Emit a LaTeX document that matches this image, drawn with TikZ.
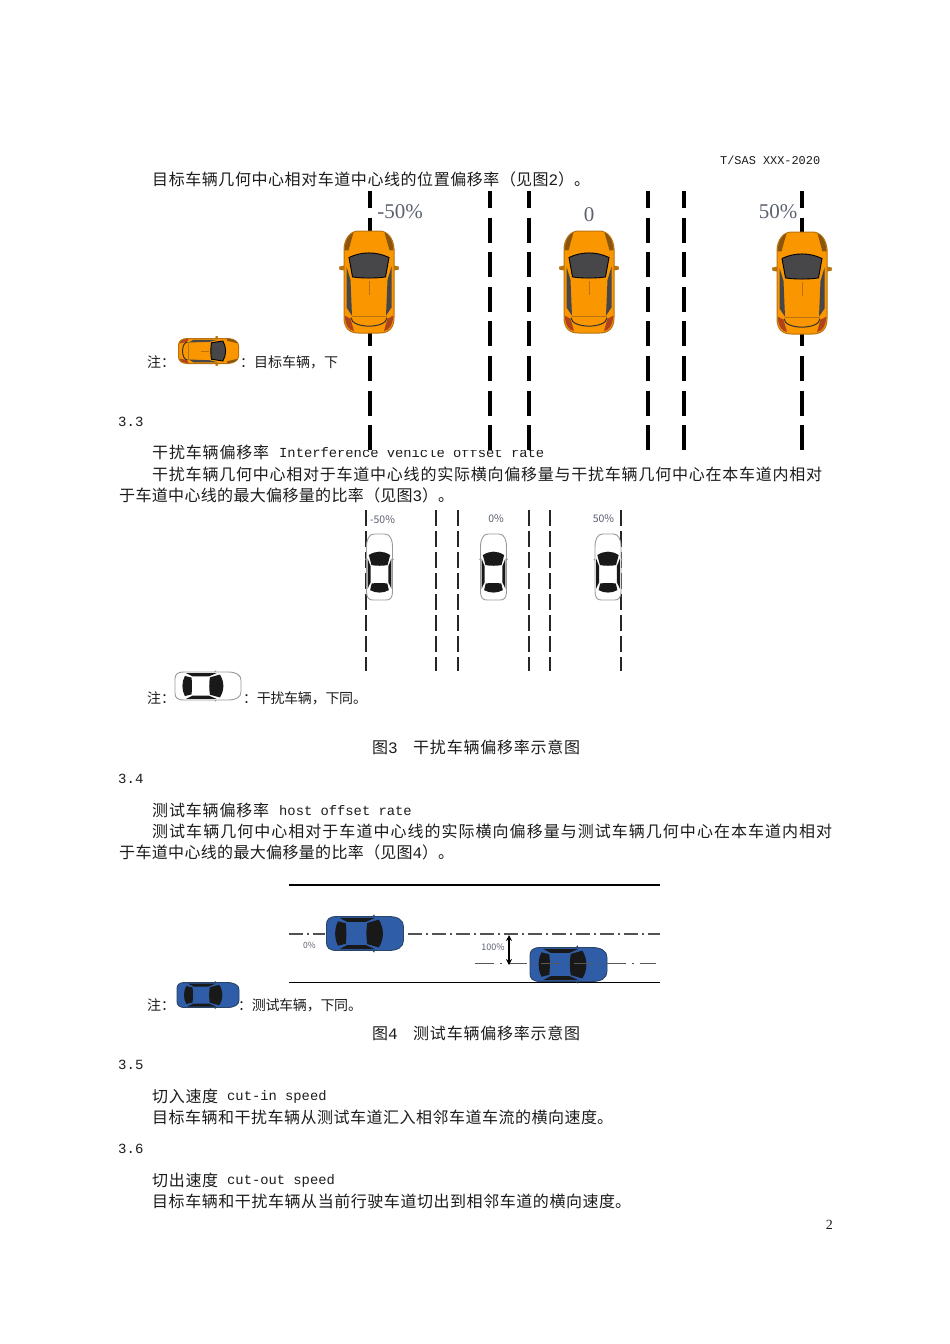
\documentclass[tikz,border=0pt]{standalone}
\usepackage{fontspec}
\usetikzlibrary{arrows.meta}
\setmainfont{Noto Sans CJK SC}
\setmonofont{Liberation Mono}
\newfontfamily\lserif{Liberation Serif}
\XeTeXlinebreaklocale "zh"
\XeTeXlinebreakskip=0pt plus 4pt minus 0.4pt
\definecolor{inktext}{HTML}{1C1C1C}
\definecolor{labelgrey}{HTML}{5C6270}
\definecolor{carorange}{HTML}{FA9600}
\definecolor{edgeorange}{HTML}{B87310}
\definecolor{glassdark}{HTML}{47474A}
\definecolor{tailred}{HTML}{B0431A}
\definecolor{carblue}{HTML}{2F5DA8}
\definecolor{edgeblue}{HTML}{2A4468}
\newcounter{tln}
% x, y, width, size, text : a line stretched to the width
\newcommand\fitline[5]{\stepcounter{tln}\node[anchor=west,inner sep=0pt,text=inktext] (line\thetln) at (#1,#2+0.8) {\parbox{#3pt}{\fontsize{#4}{#4}\selectfont\parindent=0pt\parfillskip=0pt\tolerance=9999\hbadness=10000 #5}};}
% x, y, size, text : a plain line
\newcommand\plainline[4]{\stepcounter{tln}\node[anchor=west,inner sep=0pt,text=inktext] (line\thetln) at (#1,#2+0.5) {\fontsize{#3}{#3}\selectfont #4};}
\newcommand\mo[1]{{\ttfamily #1}}
% hatchback: x y halfwidth halflength rotation
\newcommand\hatchcar[5]{%
\begin{scope}[shift={(#1,#2)},rotate=#5,xscale=#3,yscale=#4]
\fill[edgeorange] (-0.93,-0.33) -- (-1.2,-0.3) -- (-1.18,-0.24) -- (-0.93,-0.22) -- cycle;
\fill[edgeorange] (0.93,-0.33) -- (1.2,-0.3) -- (1.18,-0.24) -- (0.93,-0.22) -- cycle;
\draw[line width=1pt,draw=edgeorange,fill=carorange] (-0.42,1) .. controls (-0.75,1) and (-1,0.92) .. (-1,0.7) -- (-1,-0.66) .. controls (-0.97,-0.85) and (-0.75,-0.99) .. (-0.45,-1) -- (0.45,-1) .. controls (0.75,-0.99) and (0.97,-0.85) .. (1,-0.66) -- (1,0.7) .. controls (1,0.92) and (0.75,1) .. (0.42,1) -- cycle;
\fill[edgeorange!75!black] (-0.98,-0.62) .. controls (-0.95,-0.82) and (-0.8,-0.94) .. (-0.62,-0.97) -- (-0.82,-0.62) -- cycle;
\fill[edgeorange!75!black] (0.98,-0.62) .. controls (0.95,-0.82) and (0.8,-0.94) .. (0.62,-0.97) -- (0.82,-0.62) -- cycle;
\fill[tailred] (-0.97,0.66) .. controls (-0.95,0.85) and (-0.8,0.95) .. (-0.6,0.96) -- (-0.74,0.72) -- cycle;
\fill[tailred] (0.97,0.66) .. controls (0.95,0.85) and (0.8,0.95) .. (0.6,0.96) -- (0.74,0.72) -- cycle;
\fill[glassdark,draw=black,line width=0.9pt] (-0.8,-0.48) .. controls (-0.3,-0.6) and (0.3,-0.6) .. (0.8,-0.48) -- (0.66,-0.1) .. controls (0.3,-0.07) and (-0.3,-0.07) .. (-0.66,-0.1) -- cycle;
\fill[glassdark] (-0.9,-0.3) -- (-0.74,-0.04) -- (-0.68,0.66) -- (-0.9,0.5) -- cycle;
\fill[glassdark] (0.9,-0.3) -- (0.74,-0.04) -- (0.68,0.66) -- (0.9,0.5) -- cycle;
\draw[edgeorange,line width=0.6pt] (0,-0.02) -- (0,0.25);
\draw[black!80,line width=1pt] (-0.72,0.7) .. controls (-0.7,0.92) and (0.7,0.92) .. (0.72,0.7);
\draw[edgeorange,line width=0.7pt] (-0.7,0.68) -- (0.7,0.68);
\end{scope}}
% sedan: x y halfwidth halflength rotation bodycolour edgecolour
\newcommand\sedancar[7]{%
\begin{scope}[shift={(#1,#2)},rotate=#5,xscale=#3,yscale=#4]
\fill[#7] (-0.95,-0.26) -- (-1.12,-0.24) -- (-0.95,-0.16) -- cycle;
\fill[#7] (0.95,-0.26) -- (1.12,-0.24) -- (0.95,-0.16) -- cycle;
\draw[line width=0.9pt,draw=#7,fill=#6] (-0.5,1) .. controls (-0.8,1) and (-1,0.95) .. (-1,0.72) -- (-1,-0.6) .. controls (-1,-0.85) and (-0.8,-1) .. (-0.4,-1) -- (0.4,-1) .. controls (0.8,-1) and (1,-0.85) .. (1,-0.6) -- (1,0.72) .. controls (1,0.95) and (0.8,1) .. (0.5,1) -- cycle;
\fill[black!90] (-0.82,-0.36) .. controls (-0.3,-0.5) and (0.3,-0.5) .. (0.82,-0.36) -- (0.62,-0.06) .. controls (0.3,-0.03) and (-0.3,-0.03) .. (-0.62,-0.06) -- cycle;
\fill[black!90] (-0.6,0.5) .. controls (-0.3,0.48) and (0.3,0.48) .. (0.6,0.5) -- (0.72,0.7) .. controls (0.3,0.8) and (-0.3,0.8) .. (-0.72,0.7) -- cycle;
\fill[black!90] (-0.92,-0.26) -- (-0.68,-0.02) -- (-0.68,0.46) -- (-0.92,0.66) -- cycle;
\fill[black!90] (0.92,-0.26) -- (0.68,-0.02) -- (0.68,0.46) -- (0.92,0.66) -- cycle;
\end{scope}}
\tikzset{
  lanemain/.style={black,line width=3.4pt,dash pattern=on 25pt off 9.6pt,dash phase=8pt},
  lanesmall/.style={black!85,line width=2pt,dash pattern=on 15.5pt off 5.5pt},
  centreline/.style={black!68,line width=1.6pt,dash pattern=on 14pt off 4pt on 2pt off 4pt},
  centrelow/.style={black!65,line width=1.4pt,dash pattern=on 19pt off 6pt on 2pt off 6pt},
  roadedge/.style={black,line width=1.5pt},
  pctlabel/.style={inner sep=0pt,text=labelgrey}
}
\begin{document}
\begin{tikzpicture}[x=1pt,y=-1pt]
\useasboundingbox (0,0) rectangle (950,1344);
\fill[white] (0,0) rectangle (950,1344);

% ---- text hidden in part by the figure's white ground
\fitline{152}{452}{117}{16}{干扰车辆偏移率}
\plainline{279}{452.5}{13.8}{\mo{Interference vehicle offset rate}}
\fill[white] (338.5,188) rectangle (836,450);

% ---- page text
\plainline{720}{160}{11.9}{\mo{T/SAS XXX-2020}}
\fitline{152}{179}{438}{16}{目标车辆几何中心相对车道中心线的位置偏移率（见图\mo{2}）。}
\plainline{147}{362}{14}{注：}
\fitline{240}{362}{98}{14}{：目标车辆，下}
\plainline{118}{421}{14}{\mo{3.3}}
\fitline{152}{474}{670}{16}{干扰车辆几何中心相对于车道中心线的实际横向偏移量与干扰车辆几何中心在本车道内相对}
\fitline{119}{495}{335}{16}{于车道中心线的最大偏移量的比率（见图\mo{3}）。}
\plainline{147}{698}{14}{注：}
\fitline{243}{698}{124}{14}{：干扰车辆，下同。}
\plainline{372}{747}{16}{图\mo{3}}
\fitline{413}{747}{167}{16}{干扰车辆偏移率示意图}
\plainline{118}{778}{14}{\mo{3.4}}
\fitline{152}{810}{117}{16}{测试车辆偏移率}
\plainline{279}{810.5}{13.8}{\mo{host offset rate}}
\fitline{152}{831}{680}{16}{测试车辆几何中心相对于车道中心线的实际横向偏移量与测试车辆几何中心在本车道内相对}
\fitline{119}{852}{335}{16}{于车道中心线的最大偏移量的比率（见图\mo{4}）。}
\plainline{147}{1005}{14}{注：}
\fitline{238}{1005}{124}{14}{：测试车辆，下同。}
\plainline{372}{1033}{16}{图\mo{4}}
\fitline{413}{1033}{167}{16}{测试车辆偏移率示意图}
\plainline{118}{1064}{14}{\mo{3.5}}
\fitline{152}{1096}{66}{16}{切入速度}
\plainline{227}{1096.5}{13.8}{\mo{cut-in speed}}
\fitline{152}{1117}{461}{16}{目标车辆和干扰车辆从测试车道汇入相邻车道车流的横向速度。}
\plainline{118}{1148}{14}{\mo{3.6}}
\fitline{152}{1180}{66}{16}{切出速度}
\plainline{227}{1180.5}{13.8}{\mo{cut-out speed}}
\fitline{152}{1201}{479}{16}{目标车辆和干扰车辆从当前行驶车道切出到相邻车道的横向速度。}
\node[anchor=east,inner sep=0pt,text=inktext,font=\lserif\fontsize{14}{14}\selectfont] (pageno) at (833,1225) {2};

% ---- figure 2
\foreach \lx in {370,490,529,648,684,802} \draw[lanemain] (\lx,191) -- (\lx,456);
\hatchcar{369}{282}{25}{51}{0}
\hatchcar{589}{282}{25}{51}{0}
\hatchcar{802}{283}{25}{51}{0}
\node[pctlabel,font=\lserif\fontsize{21}{21}\selectfont] (pa) at (400,212) {-50\%};
\node[pctlabel,font=\lserif\fontsize{21}{21}\selectfont] (pb) at (589,215) {0};
\node[pctlabel,font=\lserif\fontsize{21}{21}\selectfont] (pc) at (778,212) {50\%};
\hatchcar{208.5}{351}{12.5}{30}{-90}

% ---- figure 3
\foreach \lx in {366,436,458,529,550,621} \draw[lanesmall] (\lx,510) -- (\lx,671);
\sedancar{379.5}{567}{13}{33}{0}{white}{black!40}
\sedancar{493.5}{567}{13}{33}{0}{white}{black!40}
\sedancar{608}{567}{13}{33}{0}{white}{black!40}
\node[pctlabel,font=\fontsize{10.5}{10.5}\selectfont] (qa) at (382.5,520) {-50\%};
\node[pctlabel,font=\fontsize{10.5}{10.5}\selectfont] (qb) at (496,519) {0\%};
\node[pctlabel,font=\fontsize{10.5}{10.5}\selectfont] (qc) at (603.5,519) {50\%};
\sedancar{208}{686}{14}{33}{-90}{white}{black!40}

% ---- figure 4
\draw[roadedge] (289,885) -- (660,885);
\draw[roadedge,line width=1pt] (289,982) -- (660,982);
\draw[centreline] (289,934) -- (325,934);
\draw[centreline] (408,934) -- (660,934);
\sedancar{365}{933.5}{17}{38.5}{-90}{carblue}{edgeblue}
\sedancar{568.5}{964.5}{17}{38.5}{-90}{carblue}{edgeblue}
\draw[centrelow] (475,963.5) -- (656,963.5);
\coordinate (arrtop) at (509,935);
\coordinate (arrbot) at (509,965);
\draw[black,line width=1.6pt,{Stealth[length=6pt,width=6pt]}-{Stealth[length=6pt,width=6pt]}] (arrtop) -- (arrbot);
\node[pctlabel,font=\fontsize{8.5}{8.5}\selectfont] (ra) at (309.5,945) {0\%};
\node[pctlabel,font=\fontsize{9}{9}\selectfont] (rb) at (493,947) {100\%};
\sedancar{208}{995}{12.5}{31}{-90}{carblue}{edgeblue}
\end{tikzpicture}
\end{document}
